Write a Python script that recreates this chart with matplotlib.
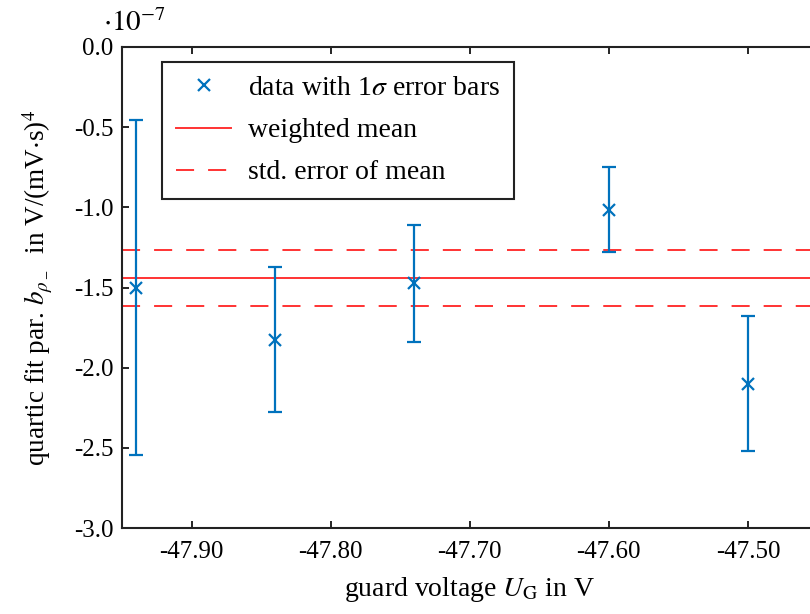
import numpy as np
import matplotlib
matplotlib.use('Agg')
import matplotlib.pyplot as plt
from matplotlib.lines import Line2D
from matplotlib.ticker import FormatStrFormatter

plt.rcParams['font.family'] = 'Liberation Serif'
plt.rcParams['mathtext.fontset'] = 'stix'
plt.rcParams['axes.unicode_minus'] = False

# guard voltage in V, fit parameter in units of 1e-7
u_guard = [-47.94, -47.84, -47.74, -47.60, -47.50]
b_val = [-1.50, -1.825, -1.475, -1.015, -2.10]
b_err = [1.045, 0.45, 0.365, 0.265, 0.42]
w_mean = -1.44
w_err = 0.175

blue = '#0072BD'
red = '#FF3333'
dash = (0, (9.3, 7.2))

fig = plt.figure(figsize=(8.1, 6.14), dpi=100)
ax = fig.add_axes([0.1506, 0.140, 0.8586, 0.7835])

ax.errorbar(u_guard, b_val, yerr=b_err, fmt='x', color=blue, ms=8, mew=1.6,
            elinewidth=1.6, capsize=5, capthick=1.6, zorder=3)
ax.axhline(w_mean, color=red, lw=1.4)
ax.axhline(w_mean + w_err, color=red, lw=1.4, ls=dash)
ax.axhline(w_mean - w_err, color=red, lw=1.4, ls=dash)

ax.set_xlim(-47.95, -47.45)
ax.set_ylim(-3.0, 0.0)
ax.set_xticks([-47.90, -47.80, -47.70, -47.60, -47.50])
ax.set_yticks(np.arange(-3.0, 0.01, 0.5))
ax.xaxis.set_major_formatter(FormatStrFormatter('%.2f'))
ax.yaxis.set_major_formatter(FormatStrFormatter('%.1f'))
ax.tick_params(direction='in', length=5, width=1.2, labelsize=18,
               top=True, right=True)
ax.tick_params(axis='x', pad=9)
ax.tick_params(axis='y', pad=6)
for s in ax.spines.values():
    s.set_linewidth(1.5)
    s.set_color('#222222')

ax.set_xlabel(r'guard voltage $U_\mathrm{G}$ in V', fontsize=20, labelpad=9)
ax.set_ylabel(r'quartic fit par. $b_{\rho_-}$  in V/(mV$\cdot$s)$^4$', fontsize=19.5,
              labelpad=14)
fig.text(0.127, 0.940, r'$\cdot 10^{-7}$', fontsize=21, ha='left', va='bottom')

legend_elements = [Line2D([0], [0], color=blue, marker='x', ls='none', ms=8, mew=1.6,
                          label=r'data with 1$\sigma$ error bars'),
                   Line2D([0], [0], color=red, lw=1.4, label='weighted mean'),
                   Line2D([0], [0], color=red, lw=1.4, ls=dash,
                          label='std. error of mean')]
leg = ax.legend(handles=legend_elements, loc='upper left', bbox_to_anchor=(0.0575, 0.969),
                fontsize=20, fancybox=False, edgecolor='#222222', framealpha=1,
                borderaxespad=0, handlelength=2.0, handletextpad=0.6,
                labelspacing=0.6, borderpad=0.5)
leg.get_frame().set_linewidth(1.5)

fig.savefig('out.png', dpi=100)
